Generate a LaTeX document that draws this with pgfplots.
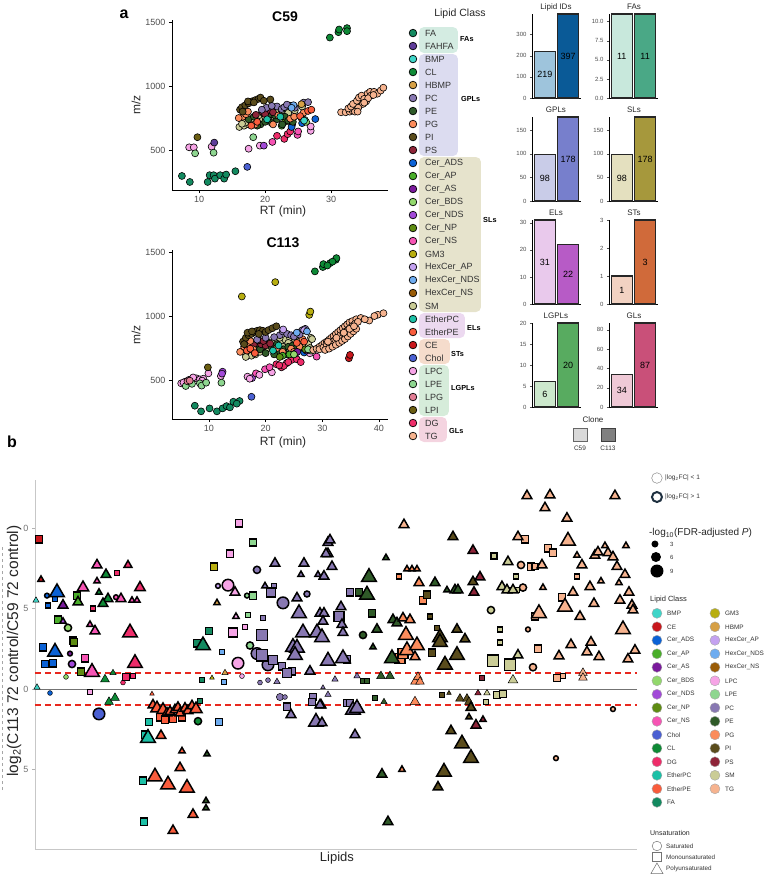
\documentclass[border=0pt]{standalone}
\usepackage{fontspec}
\setmainfont{Liberation Sans}
\usepackage{pgfplots}
\pgfplotsset{compat=1.18}
\newcommand\fs[1]{\fontsize{#1}{#1}\selectfont}

% lipid class colours
\definecolor{cBMP}{HTML}{3FD5C8}
\definecolor{cCE}{HTML}{C8171C}
\definecolor{cCerADS}{HTML}{0B62D6}
\definecolor{cCerAP}{HTML}{4AAE2A}
\definecolor{cCerAS}{HTML}{7A1A9C}
\definecolor{cCerBDS}{HTML}{92D86C}
\definecolor{cCerNDS}{HTML}{A24AD8}
\definecolor{cCerNP}{HTML}{5E8C12}
\definecolor{cCerNS}{HTML}{F654B4}
\definecolor{cChol}{HTML}{4B60D2}
\definecolor{cCL}{HTML}{0E8A36}
\definecolor{cDG}{HTML}{EE2D6A}
\definecolor{cEtherPC}{HTML}{1CC0A6}
\definecolor{cEtherPE}{HTML}{F95C3C}
\definecolor{cFA}{HTML}{138A60}
\definecolor{cGM3}{HTML}{B8AE10}
\definecolor{cHBMP}{HTML}{D6A046}
\definecolor{cHexCerAP}{HTML}{C4A2F0}
\definecolor{cHexCerNDS}{HTML}{6EACF0}
\definecolor{cHexCerNS}{HTML}{9A5C06}
\definecolor{cLPC}{HTML}{F6A4E6}
\definecolor{cLPE}{HTML}{8ED690}
\definecolor{cPC}{HTML}{8878B2}
\definecolor{cPE}{HTML}{2F5A28}
\definecolor{cPG}{HTML}{FB8C5C}
\definecolor{cPI}{HTML}{5A4C1C}
\definecolor{cPS}{HTML}{8E2438}
\definecolor{cSM}{HTML}{CACC96}
\definecolor{cTG}{HTML}{F6B38F}
\definecolor{cFAHFA}{HTML}{5E3C99}
\definecolor{cLPG}{HTML}{E27D94}
\definecolor{cLPI}{HTML}{6B5E12}
\definecolor{tickgray}{HTML}{4D4D4D}
\definecolor{redline}{HTML}{E8281E}
\definecolor{navy}{HTML}{1F3040}
% group boxes
\definecolor{gFA}{HTML}{D4ECE2}
\definecolor{gGPL}{HTML}{DCDCF0}
\definecolor{gSL}{HTML}{E6E3CC}
\definecolor{gEL}{HTML}{ECD9F0}
\definecolor{gST}{HTML}{F5DCCC}
\definecolor{gLGPL}{HTML}{D6ECDA}
\definecolor{gGL}{HTML}{F4D4E0}
% bar colours (C59 / C113)
\definecolor{bIDa}{HTML}{9EC4DC}\definecolor{bIDb}{HTML}{0A5A97}
\definecolor{bFAa}{HTML}{C8E8DC}\definecolor{bFAb}{HTML}{4AA886}
\definecolor{bGPa}{HTML}{C9CCE8}\definecolor{bGPb}{HTML}{777FCC}
\definecolor{bSLa}{HTML}{E4E0BF}\definecolor{bSLb}{HTML}{A6983C}
\definecolor{bELa}{HTML}{E9C9EC}\definecolor{bELb}{HTML}{B75BC6}
\definecolor{bSTa}{HTML}{F2D2C2}\definecolor{bSTb}{HTML}{D06A3A}
\definecolor{bLGa}{HTML}{CCE8CC}\definecolor{bLGb}{HTML}{58AB60}
\definecolor{bGLa}{HTML}{EFC9D6}\definecolor{bGLb}{HTML}{C95079}
% class index -> colour
\colorlet{lc0}{cBMP}\colorlet{lc1}{cCE}\colorlet{lc2}{cCerADS}\colorlet{lc3}{cCerAP}
\colorlet{lc4}{cCerAS}\colorlet{lc5}{cCerBDS}\colorlet{lc6}{cCerNDS}\colorlet{lc7}{cCerNP}
\colorlet{lc8}{cCerNS}\colorlet{lc9}{cChol}\colorlet{lc10}{cCL}\colorlet{lc11}{cDG}
\colorlet{lc12}{cEtherPC}\colorlet{lc13}{cEtherPE}\colorlet{lc14}{cFA}\colorlet{lc15}{cGM3}
\colorlet{lc16}{cHBMP}\colorlet{lc17}{cHexCerAP}\colorlet{lc18}{cHexCerNDS}\colorlet{lc19}{cHexCerNS}
\colorlet{lc20}{cLPC}\colorlet{lc21}{cLPE}\colorlet{lc22}{cPC}\colorlet{lc23}{cPE}
\colorlet{lc24}{cPG}\colorlet{lc25}{cPI}\colorlet{lc26}{cPS}\colorlet{lc27}{cSM}
\colorlet{lc28}{cTG}\colorlet{lc29}{cFAHFA}\colorlet{lc30}{cLPG}\colorlet{lc31}{cLPI}

\pgfplotsset{
  lipidpts/.style={scatter, only marks,
    visualization depends on={value \thisrow{c}\as\cls},
    scatter/use mapped color={draw=black, fill=lc\cls}},
  sized/.style={visualization depends on={\thisrow{m}\as\msz},
    visualization depends on={\thisrow{w}\as\lwd},
    scatter/@pre marker code/.append style={/tikz/mark size=\msz},
    scatter/@pre marker code/.append code={\pgfsetlinewidth{\lwd pt}}},
  fixedpts/.style={scatter/@pre marker code/.append style={/tikz/mark size=3.5pt},
    scatter/@pre marker code/.append code={\pgfsetlinewidth{0.6pt}}},
  scatterax/.style={scale only axis, axis x line=bottom, axis y line=left,
    axis line style={-, line width=0.6pt}, tick align=outside, major tick length=3pt,
    tick style={black, line width=0.5pt},
    ticklabel style={font=\fs{9}, text=tickgray},
    /pgf/number format/assume math mode=true, /pgf/number format/1000 sep={}, clip=false},
  barax/.style={scale only axis, width=49pt, height=84pt, xmin=0.45, xmax=2.55,
    ymin=0, axis x line=bottom, axis y line=left, axis line style={-, line width=0.6pt},
    xtick=\empty, tick align=outside, major tick length=2pt,
    ytick style={line width=0.4pt, tickgray},
    yticklabel style={font=\fs{6}, text=tickgray},
    /pgf/number format/assume math mode=true, clip=false},
  bar/.style={ybar, bar width=0.9, bar shift=0pt, draw=black!85, line width=1.1pt, fill=#1},
}

\begin{document}
\begin{tikzpicture}[x=1pt,y=1pt]
\path (0pt,0pt) rectangle (766pt,880pt);

% ---------------- panel a: C59 ----------------
\begin{axis}[scatterax, anchor=south west, at={(172pt,690pt)}, width=216pt, height=170pt,
  xmin=5.9, xmax=38.6, ymin=187, ymax=1516, xtick={10,20,30}, ytick={500,1000,1500}]
\addplot[lipidpts, fixedpts, mark=*] table[x=x, y=y] {
x y c
7.4 297 14
8.6 250 14
11.3 250 14
11.6 303 14
12.2 303 14
12.4 276 14
13.2 303 14
13.8 276 14
14.1 308 14
15.5 334 14
17.3 368 9
29.8 1379 10
31.1 1421 10
31.2 1442 10
32.4 1453 10
32.4 1429 10
8.5 521 20
9.2 521 20
11.9 526 20
17.5 510 20
9.4 474 21
12.2 479 21
18.2 600 21
9.75 600 31
12.3 558 29
19.2 534 20
19.8 534 6
21.1 563 8
21.8 611 11
22.9 587 11
23.4 624 11
23.8 645 11
24.9 618 8
25.0 645 8
26.9 650 20
26.9 684 20
24.1 700 4
24.0 680 2
25.6 710 2
27.6 742 2
26.0 735 21
26.2 720 5
22.5 690 3
23.0 720 7
16.1 680 27
16.8 690 27
17.5 700 27
18.5 720 27
19.5 735 27
20.5 740 27
21.5 750 27
22.5 765 27
23.5 790 27
24.5 810 27
25.6 840 27
19.0 770 27
20.0 760 27
21.0 780 27
22.0 800 27
22.5 810 27
18.0 745 27
17.0 715 27
16.5 705 27
17.5 740 23
18.3 760 23
19.3 700 23
20.0 720 23
21.0 710 23
21.8 740 23
22.6 700 23
23.0 760 23
23.5 730 23
24.2 720 23
19.7 790 23
20.5 775 23
18.8 690 23
21.5 770 23
18.6 775 26
19.6 800 26
20.5 810 26
21.2 795 26
20.0 780 26
20.2 830 22
21.8 840 22
22.5 820 22
23.8 845 22
24.5 830 22
19.5 815 22
22.9 835 22
25.8 870 22
21.0 845 22
23.3 855 22
26.5 874 22
16.6 760 24
17.1 780 24
17.4 800 24
16.0 750 24
18.5 700 24
23.8 745 24
24.4 760 24
25.5 750 24
25.8 790 24
22.0 770 24
21.2 700 24
17.9 690 13
18.8 720 13
26.5 805 13
27.0 815 13
25.3 765 13
20.3 740 12
22.3 760 12
24.3 850 18
24.0 830 18
25.5 858 16
25.9 730 0
16.2 816 25
16.5 835 25
17.0 850 25
17.5 865 25
18.0 880 25
18.5 890 25
19.0 900 25
19.3 910 25
19.8 885 25
20.8 895 25
17.4 880 25
18.3 872 25
16.6 800 25
31.5 795 28
32.2 795 28
32.8 800 28
33.2 810 28
33.5 830 28
33.9 850 28
34.2 870 28
34.5 890 28
34.8 905 28
35.2 920 28
35.5 940 28
35.9 955 28
36.5 955 28
37.0 940 28
37.5 965 28
37.9 987 28
36.0 925 28
35.3 880 28
34.8 860 28
34.1 830 28
33.6 800 28
32.6 825 28
33.0 840 28
33.3 860 28
33.9 885 28
34.2 910 28
34.6 925 28
35.0 900 28
35.6 905 28
36.4 930 28
34.0 800 28
35.0 870 28
};
\end{axis}

% ---------------- panel a: C113 ----------------
\begin{axis}[scatterax, anchor=south west, at={(172pt,461pt)}, width=216pt, height=169pt,
  xmin=3.47, xmax=41.6, ymin=195, ymax=1516, xtick={10,20,30,40}, ytick={500,1000,1500}]
\addplot[lipidpts, fixedpts, mark=*] table[x=x, y=y] {
x y c
7.5 299 14
8.6 255 14
10.1 278 14
11.4 255 14
12.4 278 14
13.1 296 14
13.7 286 14
14.3 330 14
15.4 336 14
14.9 315 14
17.5 369 9
28.7 1349 10
30.1 1383 10
30.2 1406 10
31.4 1414 10
32.4 1440 10
32.5 1453 10
31.8 1425 10
30.9 1395 10
15.8 1153 15
21.7 1265 15
27.7 1009 15
27.9 1035 15
5.1 474 20
5.8 487 20
6.4 500 20
6.9 505 20
7.8 513 20
8.4 505 20
9.0 510 20
9.9 552 20
12.1 531 20
5.5 480 20
7.2 520 20
8.8 495 20
5.9 453 21
8.4 474 21
8.7 456 21
9.5 479 21
12.2 479 21
7.0 470 21
9.8 599 31
12.4 565 6
12.3 550 6
6.2 490 30
6.6 495 30
16.8 526 20
17.6 515 6
18.3 552 8
19.9 584 8
21.1 560 20
17.2 510 20
18.9 540 20
20.7 600 8
21.9 623 11
22.8 599 11
23.7 631 11
23.2 610 11
24.6 657 11
25.5 662 11
26.2 640 11
24.0 640 11
22.4 615 11
27.8 709 20
29.0 683 8
34.7 670 1
34.9 696 1
16.0 720 27
16.8 700 27
17.5 690 27
18.2 700 27
19.0 720 27
19.8 735 27
20.5 750 27
21.2 770 27
22.0 790 27
22.8 800 27
23.5 815 27
24.3 830 27
25.2 815 27
26.0 800 27
27.5 780 27
28.0 830 27
18.5 740 27
19.5 760 27
20.5 790 27
21.5 810 27
22.5 830 27
17.2 760 27
23.0 760 27
24.0 790 27
26.5 780 27
28.2 820 27
27.8 750 27
16.5 680 27
17.0 740 23
17.8 760 23
18.7 770 23
19.5 790 23
20.3 800 23
21.0 760 23
21.8 740 23
22.5 720 23
23.2 740 23
24.0 760 23
24.8 770 23
25.5 755 23
19.0 740 23
20.0 710 23
21.5 700 23
23.8 700 23
18.0 720 23
22.0 780 23
26.0 740 23
17.5 790 26
18.3 800 26
19.2 780 26
20.0 770 26
18.8 810 26
19.6 805 26
17.9 775 26
20.8 785 26
15.5 720 24
16.2 760 24
16.8 790 24
17.3 805 24
17.8 740 24
22.0 750 24
23.0 720 24
24.5 745 24
25.0 720 24
26.0 760 24
27.0 730 24
26.5 820 24
16.7 730 13
17.3 745 13
18.1 710 13
25.5 790 13
26.8 800 13
21.3 730 12
22.3 770 12
25.3 710 2
26.8 715 2
24.9 700 2
27.2 730 4
25.6 720 4
23.0 690 3
24.2 700 3
25.0 700 5
28.0 730 5
22.5 680 7
27.0 740 7
27.5 740 21
22.5 850 22
23.0 880 22
23.8 860 22
24.5 850 22
25.0 840 22
25.8 870 22
26.5 890 22
27.0 900 22
26.0 855 22
21.5 835 22
20.0 830 22
18.5 815 22
23.1 895 17
26.8 890 17
27.3 880 18
25.5 870 18
16.0 800 25
16.5 830 25
17.0 850 25
17.5 860 25
18.0 875 25
18.5 885 25
19.0 890 25
19.5 885 25
20.0 875 25
20.5 890 25
21.2 905 25
21.9 920 25
16.8 870 25
17.6 880 25
18.8 860 25
16.2 780 25
28.4 735 28
29.0 745 28
29.5 760 28
30.0 775 28
30.4 790 28
30.8 800 28
31.2 815 28
31.6 830 28
32.0 845 28
32.4 860 28
32.8 875 28
33.2 890 28
33.6 905 28
34.0 920 28
34.4 935 28
34.8 950 28
35.3 960 28
36.0 975 28
36.8 985 28
38.3 965 28
39.8 1010 28
40.8 1022 28
39.2 1000 28
37.5 975 28
29.5 740 28
30.2 755 28
30.8 770 28
31.3 785 28
31.8 800 28
32.3 815 28
32.7 830 28
33.2 850 28
33.7 865 28
34.2 880 28
34.6 895 28
35.0 910 28
35.4 925 28
35.8 940 28
36.3 955 28
30.5 735 28
31.2 745 28
31.8 760 28
32.4 775 28
33.0 790 28
33.5 805 28
34.0 820 28
34.5 840 28
35.0 860 28
35.5 880 28
36.0 900 28
31.0 800 28
32.5 830 28
33.8 870 28
34.8 900 28
35.6 920 28
};
\end{axis}

% panel a texts
\node[font=\bfseries\fs{16}] at (124pt,866pt) {a};
\node[font=\bfseries\fs{14}] at (285pt,863pt) {C59};
\node[font=\bfseries\fs{14}] at (283pt,637pt) {C113};
\node[font=\fs{12}, text=black!85] at (283pt,669pt) {RT (min)};
\node[font=\fs{12}, text=black!85] at (283pt,438pt) {RT (min)};
\node[font=\fs{12}, text=black!85, rotate=90] at (136pt,775pt) {m/z};
\node[font=\fs{12}, text=black!85, rotate=90] at (136pt,545pt) {m/z};

% ---------------- lipid class legend (panel a) ----------------
\node[font=\fs{10.5}, text=black!85] at (460pt,866pt) {Lipid Class};
\begin{scope}[rounded corners=5pt]
\fill[gFA]   (419pt,827pt) rectangle (458pt,853pt);
\fill[gGPL]  (419pt,724pt) rectangle (458pt,826pt);
\fill[gSL]   (419pt,568pt) rectangle (481pt,723pt);
\fill[gEL]   (419pt,542pt) rectangle (465pt,567pt);
\fill[gST]   (419pt,516pt) rectangle (450pt,541pt);
\fill[gLGPL] (419pt,464pt) rectangle (449pt,515pt);
\fill[gGL]   (419pt,438pt) rectangle (447pt,463pt);
\end{scope}
\foreach \lab/\col [count=\i from 0] in {FA/cFA, FAHFA/cFAHFA, BMP/cBMP, CL/cCL, HBMP/cHBMP,
  PC/cPC, PE/cPE, PG/cPG, PI/cPI, PS/cPS, Cer\_ADS/cCerADS, Cer\_AP/cCerAP, Cer\_AS/cCerAS,
  Cer\_BDS/cCerBDS, Cer\_NDS/cCerNDS, Cer\_NP/cCerNP, Cer\_NS/cCerNS, GM3/cGM3,
  HexCer\_AP/cHexCerAP, HexCer\_NDS/cHexCerNDS, HexCer\_NS/cHexCerNS, SM/cSM,
  EtherPC/cEtherPC, EtherPE/cEtherPE, CE/cCE, Chol/cChol, LPC/cLPC, LPE/cLPE, LPG/cLPG,
  LPI/cLPI, DG/cDG, TG/cTG} {
  \pgfmathsetmacro\yy{847-13*\i}
  \draw[fill=\col, line width=0.7pt] (413pt,\yy pt) circle (3.8pt);
  \node[anchor=west, font=\fs{9}, text=black!80, inner sep=0pt] at (425pt,\yy pt) {\lab};
}
\begin{scope}[font=\bfseries\fs{7.3}, anchor=west, inner sep=0pt]
\node at (460pt,841pt) {FAs};
\node at (461pt,781pt) {GPLs};
\node at (483pt,660pt) {SLs};
\node at (467pt,552pt) {ELs};
\node at (451pt,526pt) {STs};
\node at (451pt,492pt) {LGPLs};
\node at (449pt,449pt) {GLs};
\end{scope}

% ---------------- bar panels ----------------
% row 1
\begin{axis}[barax, anchor=south west, at={(532pt,782pt)}, ymax=397, ytick={0,100,200,300}]
\addplot[bar=bIDa] coordinates {(1,219)};
\addplot[bar=bIDb] coordinates {(2,397)};
\node[font=\fs{9}] at (axis cs:1,109.5) {219};
\node[font=\fs{9}] at (axis cs:2,198.5) {397};
\end{axis}
\begin{axis}[barax, anchor=south west, at={(609pt,782pt)}, ymax=11, ytick={0,2.5,5,7.5,10},
  yticklabels={0.0,2.5,5.0,7.5,10.0}]
\addplot[bar=bFAa] coordinates {(1,11)};
\addplot[bar=bFAb] coordinates {(2,11)};
\node[font=\fs{9}] at (axis cs:1,5.5) {11};
\node[font=\fs{9}] at (axis cs:2,5.5) {11};
\end{axis}
% row 2
\begin{axis}[barax, anchor=south west, at={(532pt,679pt)}, ymax=178, ytick={0,50,100,150}]
\addplot[bar=bGPa] coordinates {(1,98)};
\addplot[bar=bGPb] coordinates {(2,178)};
\node[font=\fs{9}] at (axis cs:1,49) {98};
\node[font=\fs{9}] at (axis cs:2,89) {178};
\end{axis}
\begin{axis}[barax, anchor=south west, at={(609pt,679pt)}, ymax=178, ytick={0,50,100,150}]
\addplot[bar=bSLa] coordinates {(1,98)};
\addplot[bar=bSLb] coordinates {(2,178)};
\node[font=\fs{9}] at (axis cs:1,49) {98};
\node[font=\fs{9}] at (axis cs:2,89) {178};
\end{axis}
% row 3
\begin{axis}[barax, anchor=south west, at={(532pt,576pt)}, ymax=31, ytick={0,10,20,30}]
\addplot[bar=bELa] coordinates {(1,31)};
\addplot[bar=bELb] coordinates {(2,22)};
\node[font=\fs{9}] at (axis cs:1,15.5) {31};
\node[font=\fs{9}] at (axis cs:2,11) {22};
\end{axis}
\begin{axis}[barax, anchor=south west, at={(609pt,576pt)}, ymax=3, ytick={0,1,2,3}]
\addplot[bar=bSTa] coordinates {(1,1)};
\addplot[bar=bSTb] coordinates {(2,3)};
\node[font=\fs{9}] at (axis cs:1,0.5) {1};
\node[font=\fs{9}] at (axis cs:2,1.5) {3};
\end{axis}
% row 4
\begin{axis}[barax, anchor=south west, at={(532pt,473pt)}, ymax=20, ytick={0,5,10,15,20}]
\addplot[bar=bLGa] coordinates {(1,6)};
\addplot[bar=bLGb] coordinates {(2,20)};
\node[font=\fs{9}] at (axis cs:1,3) {6};
\node[font=\fs{9}] at (axis cs:2,10) {20};
\end{axis}
\begin{axis}[barax, anchor=south west, at={(609pt,473pt)}, ymax=87, ytick={0,20,40,60,80}]
\addplot[bar=bGLa] coordinates {(1,34)};
\addplot[bar=bGLb] coordinates {(2,87)};
\node[font=\fs{9}] at (axis cs:1,17) {34};
\node[font=\fs{9}] at (axis cs:2,43.5) {87};
\end{axis}
\begin{scope}[font=\fs{8}, text=black!85]
\node at (556pt,873pt) {Lipid IDs};
\node at (634pt,873pt) {FAs};
\node at (556pt,770pt) {GPLs};
\node at (634pt,770pt) {SLs};
\node at (556pt,667pt) {ELs};
\node at (634pt,667pt) {STs};
\node at (556pt,564pt) {LGPLs};
\node at (634pt,564pt) {GLs};
\end{scope}
% clone legend
\node[font=\fs{8}, text=black!85] at (593pt,460pt) {Clone};
\draw[fill=black!15, draw=black!60, line width=0.8pt] (573pt,439pt) rectangle (587pt,452pt);
\draw[fill=black!50, draw=black!75, line width=0.8pt] (601pt,439pt) rectangle (615pt,452pt);
\node[font=\fs{6.5}, text=black!80] at (580pt,432pt) {C59};
\node[font=\fs{6.5}, text=black!80] at (608pt,432pt) {C113};

% ---------------- panel b ----------------
\node[font=\bfseries\fs{16}] at (12pt,438pt) {b};
\draw[black!35, line width=0.5pt, dash pattern=on 3pt off 3pt] (2pt,90pt) -- (2pt,335pt);
\begin{axis}[scale only axis, anchor=south west, at={(35pt,31pt)}, width=602pt, height=369pt,
  xmin=35, xmax=637, ymin=-9.94, ymax=12.98,
  axis x line=bottom, axis y line=left, axis line style={-, line width=0.8pt, black!22},
  xtick=\empty, ytick={-5,0,5,10}, yticklabels={5,0,5,0},
  tick align=outside, major tick length=3pt, ytick style={black!30, line width=0.6pt},
  yticklabel style={font=\fs{9}, text=black!55},
  /pgf/number format/assume math mode=true, clip=false]
\addplot[black!55, line width=0.9pt] coordinates {(35,0) (637,0)};
\addplot[redline, line width=1.3pt, dash pattern=on 6pt off 4pt] coordinates {(35,1) (637,1)};
\addplot[redline, line width=1.3pt, dash pattern=on 6pt off 4pt] coordinates {(35,-1) (637,-1)};
% saturated
\addplot[lipidpts, sized, mark=*] table[x=x, y=y] {
x y m w c
47 5.8 2.4 1.5 2
116 5.7 2.4 1.5 8
68 3.8 3.6 1.5 5
70 2.2 2.4 1.5 4
72 1.55 3.6 1.5 6
66 0.75 2.4 0.5 5
123 0.4 2.4 0.5 11
50 -0.25 2.4 0.5 2
99 -1.55 5.8 1.5 9
198 -2.0 3.6 1.5 10
257 7.4 3.6 1.5 22
218 6.4 2.4 1.5 17
228 6.45 5.8 1.5 20
247 5.8 2.4 1.5 21
283 5.35 5.8 1.5 22
307 5.9 3.0 1.5 22
250 2.7 3.6 1.5 21
257 2.2 5.8 1.5 22
238 1.6 5.8 1.5 20
242 0.8 2.4 0.5 20
268 1.5 5.8 1.5 22
260 0.4 2.4 0.5 22
268 0.55 2.4 0.5 22
280 -0.5 3.6 0.5 22
285 -0.5 2.4 0.5 22
521 7.7 3.6 1.5 28
491 4.9 3.6 1.5 27
523 6.3 3.6 1.5 28
528 3.7 2.4 1.5 28
363 3.35 3.6 1.5 23
533 1.35 3.6 1.5 28
556 -4.3 2.4 1.5 28
613 -1.25 2.4 1.5 28
};
% monounsaturated
\addplot[lipidpts, sized, mark=square*] table[x=x, y=y] {
x y m w c
39 9.3 3.7 1.5 1
48 5.2 2.5 1.5 2
55 5.6 2.5 1.5 2
77 5.8 3.7 1.5 3
117 7.2 2.5 1.5 11
93 5.0 2.5 1.5 11
58 4.3 3.7 1.5 3
73 3.0 3.7 1.5 7
43 2.6 3.7 1.5 2
45 1.55 3.7 1.5 2
53 1.6 3.7 1.5 2
74 2.9 3.7 1.5 7
81 1.06 3.7 1.5 7
85 1.9 3.7 1.5 8
126 0.75 3.7 0.5 11
133 0.85 2.5 0.5 11
90 -0.2 2.5 0.5 20
160 -1.75 3.7 1.5 13
165 -1.9 3.7 1.5 13
173 -1.85 3.7 1.5 13
182 -1.75 3.7 1.5 13
149 -2.05 3.7 1.5 12
145 -2.85 3.7 1.5 12
143 -5.7 3.7 1.5 12
144 -8.25 3.7 1.5 12
219 -2.05 3.7 1.5 18
200 -0.75 2.5 0.5 14
202 0.55 2.5 0.5 14
222 2.3 2.5 1.5 18
224 0.45 2.5 0.5 18
239 10.3 3.7 1.5 20
253 9.1 3.7 1.5 21
230 8.4 3.7 1.5 20
214 7.6 3.7 1.5 15
253 5.8 3.7 1.5 21
274 6.4 2.5 1.5 22
271 6.0 4.6 1.5 22
248 4.6 2.5 1.5 21
263 4.4 2.5 1.5 22
209 3.6 3.7 1.5 14
233 3.5 4.6 1.5 20
245 3.85 2.5 1.5 20
262 3.35 5.6 1.5 22
197 2.85 3.7 1.5 14
262 2.1 5.6 1.5 22
273 1.8 4.6 1.5 22
282 1.4 3.7 1.5 22
292 1.1 3.7 1.5 22
287 1.0 4.6 1.5 22
313 -0.5 3.7 0.5 22
312 -0.8 3.7 0.5 22
287 -1.1 3.7 1.5 22
525 9.3 3.7 1.5 28
548 8.75 3.7 1.5 28
553 8.45 3.7 1.5 28
494 8.25 3.0 1.5 27
531 7.6 3.7 1.5 28
535 7.6 3.0 1.5 28
577 7.0 2.5 1.5 28
562 5.7 3.7 1.5 28
535 4.5 3.7 1.5 28
516 7.0 2.5 1.5 27
508 6.15 2.5 1.5 27
517 6.15 2.5 1.5 27
500 3.7 2.5 1.5 27
500 2.9 2.5 1.5 27
350 6.0 3.7 1.5 22
359 6.0 3.7 1.5 23
399 7.0 2.5 1.5 24
423 5.5 3.7 1.5 24
427 5.85 3.7 1.5 25
372 4.7 3.7 1.5 23
339 4.5 5.0 1.5 22
430 4.5 2.5 1.5 25
437 3.8 2.5 1.5 25
347 1.85 3.7 1.5 22
400 1.9 5.0 1.5 24
403 2.2 5.0 1.5 24
432 2.25 3.7 1.5 25
493 1.75 5.6 1.5 27
510 1.5 5.6 1.5 27
538 2.5 3.7 1.5 28
363 0.5 2.5 0.5 23
367 0.5 2.5 0.5 23
482 0.7 2.5 0.5 26
557 0.7 3.7 0.5 28
563 0.8 2.5 0.5 28
347 -0.85 3.7 0.5 22
350 -0.85 3.7 0.5 22
375 -0.55 2.5 0.5 23
442 -0.35 2.5 0.5 25
497 -0.35 3.7 0.5 27
503 -0.3 3.7 0.5 27
486 -0.8 2.5 0.5 27
};
% polyunsaturated
\addplot[lipidpts, sized, mark=triangle*] table[x=x, y=y] {
x y m w c
41 6.8 3.6 1.5 1
36 5.5 3.6 0.5 0
57 6.0 8.4 1.5 2
63 5.2 5.6 1.5 4
78 5.4 5.6 1.5 3
83 6.3 6.5 1.5 8
97 7.7 5.6 1.5 8
97 6.7 3.6 1.5 8
106 7.1 5.6 1.5 10
128 7.7 4.5 1.5 11
99 6.0 3.6 1.5 10
108 5.6 5.6 1.5 10
103 5.3 5.6 1.5 10
121 5.6 5.6 1.5 8
132 5.5 3.6 1.5 8
137 5.5 3.6 1.5 8
140 6.3 6.0 1.5 11
90 4.0 3.6 1.5 8
95 3.6 5.6 1.5 8
63 4.2 3.6 1.5 6
130 3.5 8.4 1.5 11
55 2.3 8.4 1.5 2
92 1.05 8.4 1.5 8
105 0.6 5.0 0.5 10
113 1.0 3.6 0.5 10
135 1.6 8.4 1.5 11
37 0.1 3.6 0.5 0
109 -0.8 5.0 0.5 10
115 -0.55 5.0 0.5 10
152 -0.3 2.6 0.5 13
153 -1.0 5.6 1.5 13
157 -1.2 7.0 1.5 13
163 -1.3 7.0 1.5 13
167 -1.5 5.6 1.5 13
170 -1.4 5.6 1.5 13
175 -1.3 5.6 1.5 13
178 -1.15 5.6 1.5 13
180 -1.5 5.6 1.5 13
185 -1.2 5.6 1.5 13
188 -1.35 5.6 1.5 13
192 -1.05 5.6 1.5 13
196 -1.25 7.0 1.5 13
148 -3.05 8.4 1.5 12
161 -2.9 5.6 1.5 13
182 -3.85 3.6 1.5 13
207 -4.05 3.6 1.5 23
180 -4.9 5.6 1.5 13
155 -5.45 8.4 1.5 13
168 -5.95 8.4 1.5 13
187 -6.15 8.4 1.5 13
206 -6.95 3.6 1.5 23
206 -7.4 3.6 1.5 23
193 -7.8 5.6 1.5 13
173 -8.8 5.6 1.5 13
225 1.0 3.6 0.5 16
212 0.7 2.6 0.5 15
217 5.35 3.6 1.5 16
235 6.0 5.6 1.5 20
275 7.8 5.6 1.5 22
304 7.8 5.6 1.5 22
301 7.1 3.6 1.5 22
318 7.1 3.6 1.5 22
323 7.0 3.6 1.5 22
328 8.4 5.6 1.5 22
328 9.1 5.6 1.5 22
265 6.4 3.6 1.5 22
297 5.65 5.6 1.5 22
299 4.7 8.4 1.5 22
320 4.7 5.6 1.5 22
236 4.5 3.6 1.5 20
303 3.5 8.4 1.5 22
317 3.5 8.4 1.5 22
203 2.7 8.4 1.5 14
293 2.6 8.4 1.5 22
297 2.55 8.4 1.5 22
295 2.1 8.4 1.5 22
310 1.1 5.6 1.5 22
328 1.8 5.6 1.5 22
277 0.45 3.6 0.5 22
291 -1.6 5.6 1.5 22
316 -2.05 8.4 1.5 22
321 -1.0 5.6 1.5 22
323 0.1 2.6 0.5 22
330 9.25 5.6 1.5 22
326 8.4 5.6 1.5 22
332 7.6 5.6 1.5 22
324 7.0 5.6 1.5 22
404 10.2 5.6 1.5 28
453 9.45 5.6 1.5 25
473 8.6 5.6 1.5 26
386 8.15 3.6 1.5 23
527 12.0 5.6 1.5 28
550 12.05 5.6 1.5 28
545 11.25 5.6 1.5 28
567 10.6 5.6 1.5 28
615 12.0 5.6 1.5 28
518 9.45 5.6 1.5 28
568 9.2 8.4 1.5 28
508 7.9 5.6 1.5 27
542 7.7 5.6 1.5 28
577 8.3 3.6 1.5 28
582 7.7 5.6 1.5 28
595 8.3 5.6 1.5 28
598 8.5 5.6 1.5 28
605 8.9 3.6 1.5 28
608 8.45 5.6 1.5 28
613 8.2 5.6 1.5 28
617 7.6 5.6 1.5 28
626 8.9 3.6 1.5 28
625 7.1 5.6 1.5 28
601 6.7 3.6 1.5 28
619 6.6 3.6 1.5 28
590 6.35 5.6 1.5 28
573 6.0 5.6 1.5 28
629 6.0 5.6 1.5 28
620 5.5 5.6 1.5 28
632 5.2 5.6 1.5 28
633 4.9 5.6 1.5 28
565 5.1 8.4 1.5 28
594 5.3 5.6 1.5 28
580 4.5 5.6 1.5 28
539 4.7 8.4 1.5 28
623 3.7 8.4 1.5 28
502 6.35 5.6 1.5 27
507 6.15 5.6 1.5 27
513 6.15 5.6 1.5 27
543 6.3 3.6 1.5 28
473 6.65 5.6 1.5 25
480 6.95 5.6 1.5 26
474 6.0 5.6 1.5 26
447 6.15 3.6 1.5 23
455 6.15 5.6 1.5 23
458 6.15 5.6 1.5 23
435 6.6 5.6 1.5 23
369 6.95 8.4 1.5 23
367 5.85 8.4 1.5 23
407 7.45 3.6 1.5 24
412 7.45 3.6 1.5 24
417 7.45 3.6 1.5 24
419 6.6 5.6 1.5 24
377 3.7 5.6 1.5 23
341 5.1 5.6 1.5 22
342 4.0 5.6 1.5 22
343 3.5 5.6 1.5 22
322 3.2 8.4 1.5 22
324 4.7 5.6 1.5 22
323 4.2 5.6 1.5 22
393 4.3 5.6 1.5 23
397 4.1 5.6 1.5 23
406 3.35 8.4 1.5 24
403 4.4 5.6 1.5 24
410 4.3 5.6 1.5 24
440 3.2 8.4 1.5 25
457 3.7 5.6 1.5 25
465 3.1 5.6 1.5 25
328 1.75 8.4 1.5 22
343 1.9 8.4 1.5 22
392 1.9 8.4 1.5 23
373 2.6 3.6 1.5 23
407 2.4 8.4 1.5 24
417 2.7 8.4 1.5 24
415 2.0 5.6 1.5 24
445 1.5 8.4 1.5 25
457 2.1 8.4 1.5 25
440 2.9 8.4 1.5 25
518 2.1 5.6 1.5 27
559 2.05 5.6 1.5 28
571 2.75 5.6 1.5 28
587 2.3 5.6 1.5 28
599 2.0 5.6 1.5 28
591 2.9 5.6 1.5 28
635 2.4 5.6 1.5 28
628 1.85 5.6 1.5 28
335 0.6 3.6 0.5 22
357 0.8 3.6 0.5 22
381 0.8 5.0 0.5 23
390 0.8 5.0 0.5 23
415 0.45 5.0 0.5 24
418 0.75 5.0 0.5 24
420 0.45 5.0 0.5 24
513 0.55 5.6 0.5 27
583 1.0 5.0 0.5 28
583 0.7 5.0 0.5 28
328 -0.35 3.6 0.5 22
353 -1.3 8.4 1.5 22
357 -1.2 8.4 1.5 22
320 -1.0 5.6 1.5 22
322 -2.1 5.6 1.5 22
355 -2.85 5.6 1.5 22
384 -0.8 3.6 0.5 23
415 -0.8 5.6 0.5 24
460 -0.6 5.0 0.5 25
467 -0.6 5.0 0.5 25
469 -0.8 5.0 0.5 25
478 -0.25 3.6 0.5 26
487 -0.25 3.6 0.5 27
449 -0.25 2.6 0.5 25
471 -1.15 5.6 1.5 25
469 -1.75 3.6 1.5 25
483 -1.9 3.6 1.5 26
476 -2.25 5.6 1.5 26
451 -2.6 5.6 1.5 25
462 -3.4 8.4 1.5 25
471 -4.3 8.4 1.5 25
382 -5.3 5.6 1.5 23
402 -5.0 3.6 1.5 24
444 -5.15 8.4 1.5 25
438 -6.1 5.6 1.5 25
388 -8.25 5.6 1.5 23
};
\end{axis}
\node[font=\fs{13}, text=black!85] at (337pt,22pt) {Lipids};
\node[font=\fs{15.5}, text=black!85, rotate=90] at (14pt,229pt) {log\textsubscript{2}(C113 72 control/C59 72 control)};

% ---------------- panel b legends ----------------
\draw[black!45, line width=0.5pt] (657pt,402pt) circle (5.3pt);
\node[anchor=west, font=\fs{6.5}, text=black!80, inner sep=0pt] at (665pt,402pt) {|log\textsubscript{2}FC| < 1};
\draw[navy, line width=2pt] (657pt,383pt) circle (5pt);
\node[anchor=west, font=\fs{6.5}, text=black!80, inner sep=0pt] at (665pt,383pt) {|log\textsubscript{2}FC| > 1};
\node[anchor=west, font=\fs{10}, text=black!85, inner sep=0pt] at (649pt,347pt) {-log\textsubscript{10}(FDR-adjusted \textit{P})};
\fill (655pt,336pt) circle (3.5pt);
\fill (656pt,323pt) circle (5pt);
\fill (657pt,309pt) circle (6.5pt);
\begin{scope}[font=\fs{6}, text=black!80, anchor=west, inner sep=0pt]
\node at (670pt,336pt) {3};
\node at (670pt,323pt) {6};
\node at (670pt,309pt) {9};
\end{scope}
\node[anchor=west, font=\fs{7.5}, text=black!85, inner sep=0pt] at (650pt,280pt) {Lipid Class};
\foreach \lab/\col [count=\i from 0] in {BMP/cBMP, CE/cCE, Cer\_ADS/cCerADS, Cer\_AP/cCerAP,
  Cer\_AS/cCerAS, Cer\_BDS/cCerBDS, Cer\_NDS/cCerNDS, Cer\_NP/cCerNP, Cer\_NS/cCerNS,
  Chol/cChol, CL/cCL, DG/cDG, EtherPC/cEtherPC, EtherPE/cEtherPE, FA/cFA} {
  \pgfmathsetmacro\yy{266.7-13.5*\i}
  \draw[fill=\col, draw=black!35, line width=0.4pt] (657pt,\yy pt) circle (5pt);
  \node[anchor=west, font=\fs{6.4}, text=black!80, inner sep=0pt] at (667pt,\yy pt) {\lab};
}
\foreach \lab/\col [count=\i from 0] in {GM3/cGM3, HBMP/cHBMP, HexCer\_AP/cHexCerAP,
  HexCer\_NDS/cHexCerNDS, HexCer\_NS/cHexCerNS, LPC/cLPC, LPE/cLPE, PC/cPC, PE/cPE,
  PG/cPG, PI/cPI, PS/cPS, SM/cSM, TG/cTG} {
  \pgfmathsetmacro\yy{266.7-13.5*\i}
  \draw[fill=\col, draw=black!35, line width=0.4pt] (715pt,\yy pt) circle (5pt);
  \node[anchor=west, font=\fs{6.4}, text=black!80, inner sep=0pt] at (725pt,\yy pt) {\lab};
}
\node[anchor=west, font=\fs{7}, text=black!85, inner sep=0pt] at (650pt,47pt) {Unsaturation};
\draw[black!55, line width=0.5pt] (657pt,34pt) circle (4.8pt);
\draw[black!55, line width=0.5pt] (652.5pt,18.5pt) rectangle (661.5pt,27.5pt);
\draw[black!55, line width=0.5pt] (657pt,17pt) -- (651pt,6.5pt) -- (663pt,6.5pt) -- cycle;
\begin{scope}[font=\fs{6.3}, text=black!80, anchor=west, inner sep=0pt]
\node at (666pt,34pt) {Saturated};
\node at (666pt,23pt) {Monounsaturated};
\node at (666pt,11pt) {Polyunsaturated};
\end{scope}
\end{tikzpicture}
\end{document}
